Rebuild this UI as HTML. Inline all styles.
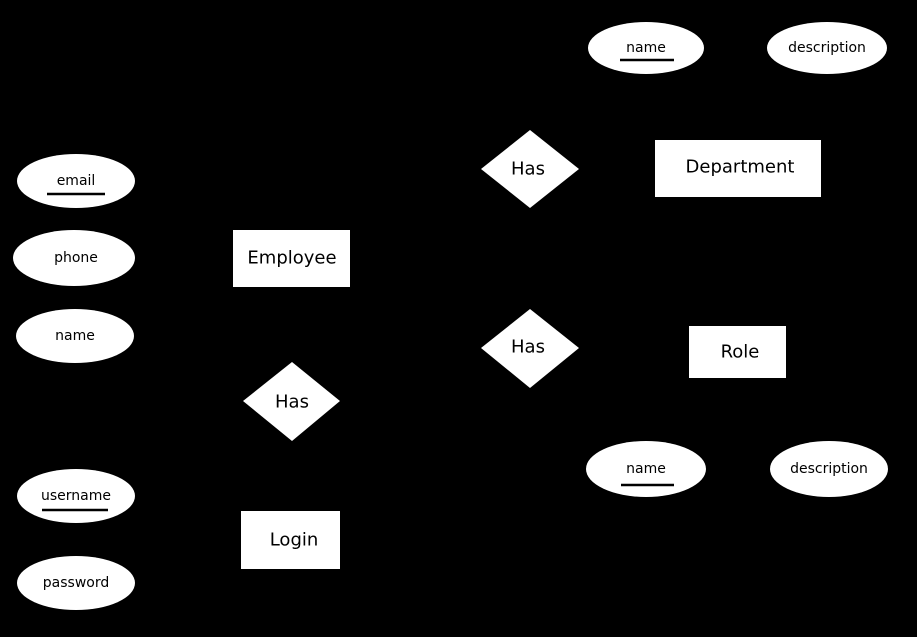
<!DOCTYPE html>
<html><head><meta charset="utf-8"><style>
html,body{margin:0;padding:0;background:#000;}
svg{display:block}
text{font-family:"DejaVu Sans","Liberation Sans",sans-serif;fill:#000;text-anchor:middle;dominant-baseline:central}
.a{font-size:14px}
.e{font-size:18px}
</style></head><body>
<svg width="917" height="637" viewBox="0 0 917 637">
<rect width="917" height="637" fill="#000"/>
<g fill="#fff">
<ellipse cx="646" cy="48" rx="58" ry="26"/>
<ellipse cx="827" cy="48" rx="60" ry="26"/>
<ellipse cx="646" cy="469" rx="60" ry="28"/>
<ellipse cx="829" cy="469" rx="59" ry="28"/>
<ellipse cx="76" cy="181" rx="59" ry="27"/>
<ellipse cx="74" cy="258" rx="61" ry="28"/>
<ellipse cx="75" cy="336" rx="59" ry="27"/>
<ellipse cx="76" cy="496" rx="59" ry="27"/>
<ellipse cx="76" cy="583" rx="59" ry="27"/>
<rect x="655" y="140" width="166" height="57"/>
<rect x="689" y="326" width="97" height="52"/>
<rect x="233" y="230" width="117" height="57"/>
<rect x="241" y="511" width="99" height="58"/>
<polygon points="530,130 579,169 530,208 481,169"/>
<polygon points="530,309 579,348 530,388 481,348"/>
<polygon points="292,362 340,401 292,441 243,401"/>
</g>
<g stroke="#000" stroke-width="2.5">
<line x1="620" y1="60" x2="674" y2="60"/>
<line x1="621" y1="485" x2="674" y2="485"/>
<line x1="47" y1="194" x2="105" y2="194"/>
<line x1="42" y1="510" x2="108" y2="510"/>
</g>
<text class="a" x="646" y="48">name</text>
<text class="a" x="827" y="48">description</text>
<text class="a" x="646" y="469">name</text>
<text class="a" x="829" y="469">description</text>
<text class="a" x="76" y="181">email</text>
<text class="a" x="76" y="258">phone</text>
<text class="a" x="75" y="336">name</text>
<text class="a" x="76" y="496">username</text>
<text class="a" x="76" y="583">password</text>
<text class="e" x="740" y="167">Department</text>
<text class="e" x="740" y="352">Role</text>
<text class="e" x="292" y="258">Employee</text>
<text class="e" x="294" y="540">Login</text>
<text class="e" x="528" y="169">Has</text>
<text class="e" x="528" y="347">Has</text>
<text class="e" x="292" y="402">Has</text>
</svg>
</body></html>
